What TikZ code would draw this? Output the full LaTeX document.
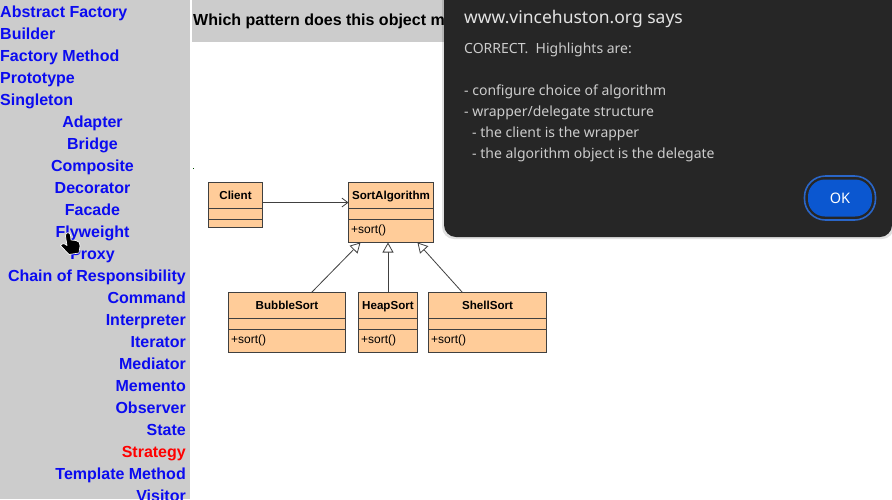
\documentclass[tikz,border=0pt]{standalone}
\usepackage{fontspec}
\setmainfont{Liberation Sans}
\newfontfamily\dialogfont{Noto Sans}
\usetikzlibrary{arrows.meta,positioning,calc}
\definecolor{sidegray}{HTML}{CCCCCC}
\definecolor{linkblue}{HTML}{0B0BF0}
\definecolor{linkred}{HTML}{FF0000}
\definecolor{umlfill}{HTML}{FFCC99}
\definecolor{umlline}{HTML}{404040}
\definecolor{dialogbg}{HTML}{262626}
\definecolor{dialogtext}{HTML}{CCCCCC}
\definecolor{dialoghead}{HTML}{E3E3E3}
\definecolor{okblue}{HTML}{0B57D0}
\definecolor{okring}{HTML}{2A66C8}
\begin{document}
\begin{tikzpicture}[x=1pt,y=-1pt,font=\fontsize{16}{18}\selectfont\bfseries]
\tikzset{
  umlbox/.style={draw=umlline,fill=umlfill,line width=1pt,anchor=north west,outer sep=0pt,inner sep=0pt},
  umltitle/.style={font=\fontsize{11.6}{14}\selectfont\bfseries,text=black,anchor=base,inner sep=0pt},
  umlmethod/.style={font=\fontsize{12}{14}\selectfont\mdseries,text=black,anchor=base west,inner sep=0pt},
  menuitem/.style={text=linkblue,anchor=base,inner sep=0pt},
  dialogline/.style={font=\dialogfont\fontsize{14}{16}\selectfont\mdseries,text=dialogtext,anchor=base west,inner sep=0pt},
  assoc/.style={draw=umlline,line width=.8pt,-{Straight Barb[length=6pt,width=9pt]}},
  inherit/.style={draw=umlline,line width=.8pt,-{Triangle[open,length=10pt,width=11pt,fill=white]}}
}
\useasboundingbox (0,0) rectangle (892,499);
\fill[white] (0,0) rectangle (892,499);
\fill[sidegray] (0,0) rectangle (190,499);
\fill[sidegray] (192,0) rectangle (446,42);
\fill[black!70!green] (193,168) rectangle (194,169);
\node[anchor=base west,inner sep=0pt,text=black] (question) at (193,25) {Which pattern does this object m};
% sidebar
\foreach \yy/\lab in {17/Abstract Factory,39/Builder,61/Factory Method,83/Prototype,105/Singleton}{\node[menuitem,anchor=base west] (m\yy) at (0,\yy) {\lab};}
\foreach \yy/\lab in {127/Adapter,149/Bridge,171/Composite,193/Decorator,215/Facade,237/Flyweight,259/Proxy}{\node[menuitem] (m\yy) at (92.5,\yy) {\lab};}
\foreach \yy/\lab in {281/Chain of Responsibility,303/Command,325/Interpreter,347/Iterator,369/Mediator,391/Memento,413/Observer,435/State,479/Template Method,501/Visitor}{\node[menuitem,anchor=base east] (m\yy) at (186,\yy) {\lab};}
\node[menuitem,anchor=base east,text=linkred] (m457) at (186,457) {Strategy};
% hand cursor
\draw[white,fill=black,line width=.7pt,line join=round] (65.5,236) .. controls (65,232) and (70,231.5) .. (70.5,235) -- (71,240) -- (76,240.5) .. controls (79,241) and (80.5,243) .. (80,246) -- (79,253) -- (69,254.5) -- (60.5,245.5) .. controls (61,243) and (64,243) .. (67,245.5) -- cycle;
% classes
\foreach \nm/\lab/\xx/\yy/\ww/\hh in {client/Client/208.5/182.5/54/45,sortalgo/SortAlgorithm/348.5/182.5/85/60,bubble/BubbleSort/228.5/292.5/117/60,heap/HeapSort/358.5/292.5/59/60,shell/ShellSort/428.5/292.5/118/60}{
  \node[umlbox,minimum width=\ww pt,minimum height=\hh pt] (\nm) at (\xx,\yy) {};
  \node[umltitle] (\nm title) at ($(\nm.north)+(0,16.5)$) {\lab};
  \draw[umlline,line width=1pt] ($(\nm.north west)+(0,26)$) -- ($(\nm.north east)+(0,26)$);
  \draw[umlline,line width=1pt] ($(\nm.north west)+(0,37)$) -- ($(\nm.north east)+(0,37)$);
}
\foreach \nm in {sortalgo,bubble,heap,shell}{\node[umlmethod] (\nm sort) at ($(\nm.north west)+(2.5,50.5)$) {+sort()};}
\draw[assoc] ($(client.north east)+(0,20)$) -- ($(sortalgo.north west)+(0,20)$);
\draw[inherit] ($(bubble.north west)+(83,0)$) -- ($(sortalgo.south west)+(12,0)$);
\draw[inherit] (heap.north) -- ($(sortalgo.south west)+(39.5,0)$);
\draw[inherit] ($(shell.north west)+(34,0)$) -- ($(sortalgo.south west)+(69,0)$);
% dialog
\fill[black,opacity=.12,rounded corners=12pt] (442,-14) rectangle (894,239);
\fill[dialogbg,rounded corners=12pt] (444,-14) rectangle (892,237);
\node[dialogline,font=\dialogfont\fontsize{17.5}{18}\selectfont\mdseries,text=dialoghead] (dlgtitle) at (464,23) {www.vincehuston.org says};
\node[dialogline] (dlga) at (464,53) {CORRECT.\ \ Highlights are:};
\node[dialogline] (dlgb) at (464,95) {- configure choice of algorithm};
\node[dialogline] (dlgc) at (464,116) {- wrapper/delegate structure};
\node[dialogline] (dlgd) at (472,137) {- the client is the wrapper};
\node[dialogline] (dlge) at (472,158) {- the algorithm object is the delegate};
\node[draw=okring,line width=1.6pt,fill=dialogbg,rounded corners=21pt,minimum width=71pt,minimum height=44pt,inner sep=0pt] (okring) at (840,198) {};
\node[fill=okblue,rounded corners=17pt,minimum width=64pt,minimum height=37pt,inner sep=0pt,text=white,font=\dialogfont\fontsize{14.5}{16}\selectfont\mdseries] (okbtn) at (840,198) {OK};
\end{tikzpicture}
\end{document}
